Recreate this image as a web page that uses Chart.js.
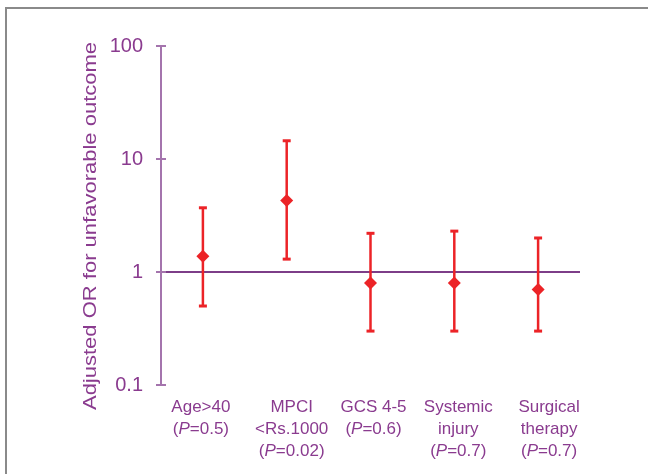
<!DOCTYPE html>
<html>
<head>
<meta charset="utf-8">
<script src="https://cdn.jsdelivr.net/npm/chart.js@4.4.1/dist/chart.umd.min.js"></script>
<style>
  html, body { margin:0; padding:0; background:#fff; }
  #wrap { position:relative; width:648px; height:474px; overflow:hidden; }
  #frame { position:absolute; left:5px; top:7px; right:-10px; bottom:-10px; border-left:2px solid #8a8a8a; border-top:2px solid #8a8a8a; pointer-events:none; }
  canvas { position:absolute; left:0; top:0; }
</style>
</head>
<body>
<div id="wrap">
<canvas id="c" width="648" height="474"></canvas>
<div id="frame"></div>
</div>
<script>
// ---- data ----
const categories = ['Age>40', 'MPCI', 'GCS 4-5', 'Systemic', 'Surgical'];
const categoryLines = [['Age>40'], ['MPCI', '<Rs.1000'], ['GCS 4-5'], ['Systemic', 'injury'], ['Surgical', 'therapy']];
const pValues = ['0.5', '0.02', '0.6', '0.7', '0.7'];
const oddsRatio = [1.38, 4.3, 0.8, 0.8, 0.7];
const ciLower = [0.5, 1.3, 0.3, 0.3, 0.3];
const ciUpper = [3.7, 14.5, 2.2, 2.3, 2.0];
const yTickValues = [0.1, 1, 10, 100];
const yTickLabels = ['0.1', '1', '10', '100'];
const yTitle = 'Adjusted OR for unfavorable outcome';

// ---- layout / style (not data) ----
const labelNudge = [-2, 5, 3, 4, 11];
const PURPLE_TEXT = '#8a3b8f';
const PURPLE_AXIS = '#a474ad';
const PURPLE_LINE = '#7d3d88';
const RED = '#ec2327';
const FONT = '"Liberation Sans", Arial, sans-serif';

const decor = {
  id: 'decor',
  beforeDatasetsDraw(chart) {
    const ctx = chart.ctx, x = chart.scales.x, y = chart.scales.y, ca = chart.chartArea;
    ctx.save();
    ctx.strokeStyle = PURPLE_LINE; ctx.lineWidth = 2;
    const y1 = Math.round(y.getPixelForValue(1));
    ctx.beginPath(); ctx.moveTo(ca.left, y1); ctx.lineTo(ca.right, y1); ctx.stroke();
    ctx.strokeStyle = PURPLE_AXIS; ctx.lineWidth = 2;
    yTickValues.forEach(v => {
      const py = Math.round(y.getPixelForValue(v));
      ctx.beginPath(); ctx.moveTo(ca.left, py); ctx.lineTo(ca.left + 5, py); ctx.stroke();
    });
    ctx.strokeStyle = RED;
    categories.forEach((c, i) => {
      const px = x.getPixelForValue(i);
      const pl = y.getPixelForValue(ciLower[i]);
      const pu = y.getPixelForValue(ciUpper[i]);
      ctx.lineWidth = 2.5;
      ctx.beginPath(); ctx.moveTo(px, pl); ctx.lineTo(px, pu); ctx.stroke();
      ctx.lineWidth = 3;
      ctx.beginPath(); ctx.moveTo(px - 4, pl); ctx.lineTo(px + 4, pl); ctx.stroke();
      ctx.beginPath(); ctx.moveTo(px - 4, pu); ctx.lineTo(px + 4, pu); ctx.stroke();
    });
    ctx.restore();
  },
  afterDraw(chart) {
    const ctx = chart.ctx, x = chart.scales.x, ca = chart.chartArea;
    ctx.save();
    ctx.fillStyle = PURPLE_TEXT;
    ctx.textBaseline = 'middle';
    const lh = 22;
    const y0 = ca.bottom + 22;
    categories.forEach((c, i) => {
      const cx = x.getPixelForValue(i) + labelNudge[i];
      const lines = categoryLines[i];
      ctx.textAlign = 'center';
      ctx.font = '17px ' + FONT;
      lines.forEach((t, k) => ctx.fillText(t, cx, y0 + k * lh));
      const parts = [['(', 'normal'], ['P', 'italic'], ['=' + pValues[i] + ')', 'normal']];
      let total = 0;
      parts.forEach(p => { ctx.font = p[1] + ' 17px ' + FONT; total += ctx.measureText(p[0]).width; });
      let sx = cx - total / 2;
      const py = y0 + lines.length * lh;
      ctx.textAlign = 'left';
      parts.forEach(p => { ctx.font = p[1] + ' 17px ' + FONT; ctx.fillText(p[0], sx, py); sx += ctx.measureText(p[0]).width; });
    });
    ctx.font = '22px ' + FONT;
    ctx.textAlign = 'center';
    ctx.translate(91, 226);
    ctx.rotate(-Math.PI / 2);
    ctx.scale(1, 0.87);
    ctx.fillText(yTitle, 0, 0);
    ctx.restore();
  }
};

new Chart(document.getElementById('c'), {
  type: 'line',
  data: {
    labels: categories,
    datasets: [{
      data: oddsRatio,
      showLine: false,
      pointStyle: 'rectRot',
      pointRadius: 6.5,
      pointHoverRadius: 6.5,
      backgroundColor: RED,
      borderColor: RED,
      borderWidth: 0
    }]
  },
  options: {
    responsive: false,
    animation: false,
    devicePixelRatio: 1,
    layout: { padding: { top: 46, right: 68, left: 0, bottom: 0 } },
    plugins: { legend: { display: false }, tooltip: { enabled: false } },
    scales: {
      x: {
        type: 'category',
        offset: true,
        grid: { display: false },
        border: { display: false },
        ticks: { display: false },
        afterFit(s) { s.height = 89; }
      },
      y: {
        type: 'logarithmic',
        min: 0.1,
        max: 100,
        afterBuildTicks(s) { s.ticks = yTickValues.map(v => ({ value: v })); },
        afterFit(s) { s.width = 161; },
        grid: { display: true, drawOnChartArea: false, drawTicks: true, tickLength: 5, color: PURPLE_AXIS, lineWidth: 2 },
        border: { display: true, color: PURPLE_AXIS, width: 2 },
        ticks: {
          padding: 13,
          color: PURPLE_TEXT,
          font: { family: FONT, size: 20 },
          callback(v) { const i = yTickValues.indexOf(v); return i >= 0 ? yTickLabels[i] : ''; }
        }
      }
    }
  },
  plugins: [decor]
});
</script>
</body>
</html>
